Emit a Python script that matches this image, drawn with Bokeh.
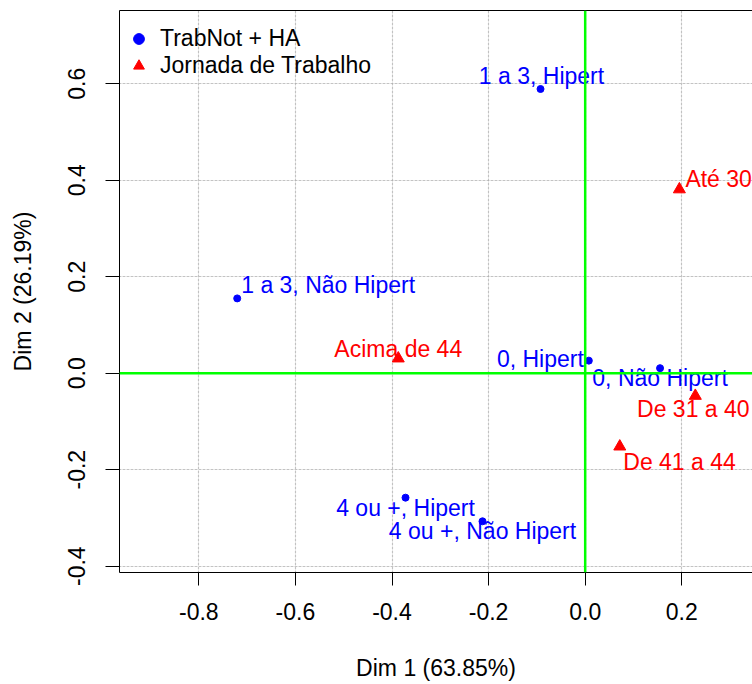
from bokeh.plotting import figure
from bokeh.models import (Range1d, FixedTicker, PrintfTickFormatter, LinearAxis,
                          Span, ColumnDataSource, Legend, Grid)
from bokeh.core.properties import value
from bokeh.embed import file_html
from bokeh.resources import INLINE

# ---------------- data ----------------
row_labels = ["0, Hipert", "0, Não Hipert", "1 a 3, Hipert",
              "1 a 3, Não Hipert", "4 ou +, Hipert", "4 ou +, Não Hipert"]
row_dim1 = [0.0075, 0.155, -0.0925, -0.7205, -0.372, -0.2126]
row_dim2 = [0.026, 0.0104, 0.589, 0.155, -0.258, -0.307]

col_labels = ["Até 30", "De 31 a 40", "De 41 a 44", "Acima de 44"]
col_dim1 = [0.195, 0.228, 0.0716, -0.387]
col_dim2 = [0.381, -0.047, -0.152, 0.0305]

x_ticks = [-0.8, -0.6, -0.4, -0.2, 0.0, 0.2, 0.4]
y_ticks = [-0.4, -0.2, 0.0, 0.2, 0.4, 0.6]
x_title = "Dim 1 (63.85%)"
y_title = "Dim 2 (26.19%)"
legend_names = ["TrabNot + HA", "Jornada de Trabalho"]
x_limits = (-0.9642, 0.3464)
y_limits = (-0.4131, 0.7517)

# ---------------- label placement (styles) ----------------
row_align = ["right", "center", "center", "left", "center", "center"]
row_dx = [-5, 0, 1, 4, 0, 0]
row_dy = [-2, 10, -13, -13, 10, 9.5]
col_align = ["left", "center", "left", "center"]
col_dx = [6, -2, 3.5, 0]
col_dy = [-10, 13.5, 15, -9]

FONT = "Liberation Sans"
FS = "23px"
BLUE = "#0000FF"
RED = "#FF0000"
GREEN = "#00FF00"

rows = ColumnDataSource(dict(x=row_dim1, y=row_dim2, t=row_labels,
                             al=row_align, dx=row_dx, dy=row_dy))
cols = ColumnDataSource(dict(x=col_dim1, y=col_dim2, t=col_labels,
                             al=col_align, dx=col_dx, dy=col_dy))

p = figure(width=752, height=684, output_backend="svg", toolbar_location=None,
           x_range=Range1d(*x_limits), y_range=Range1d(*y_limits),
           x_axis_location=None, y_axis_location=None,
           min_border_left=119, min_border_right=0, min_border_top=10,
           min_border_bottom=112)
p.outline_line_color = None
p.background_fill_color = "white"
p.border_fill_color = "white"

xt = FixedTicker(ticks=x_ticks)
yt = FixedTicker(ticks=y_ticks)

xaxis = LinearAxis(ticker=xt, formatter=PrintfTickFormatter(format="%.1f"),
                   axis_label=x_title)
yaxis = LinearAxis(ticker=yt, formatter=PrintfTickFormatter(format="%.1f"),
                   axis_label=y_title)
topaxis = LinearAxis(ticker=FixedTicker(ticks=[]), major_tick_out=0,
                     major_tick_in=0, minor_tick_out=0, minor_tick_in=0,
                     major_label_standoff=0)
for ax in (xaxis, yaxis, topaxis):
    ax.axis_line_color = "black"
    ax.axis_line_width = 1
    ax.major_tick_line_color = "black"
    ax.minor_tick_line_color = None
    ax.major_tick_in = 0
    ax.major_label_text_font = FONT
    ax.major_label_text_font_size = FS
    ax.major_label_text_color = "black"
    ax.axis_label_text_font = FONT
    ax.axis_label_text_font_size = FS
    ax.axis_label_text_font_style = "normal"
    ax.axis_label_text_color = "black"
xaxis.major_tick_out = 13
xaxis.major_label_standoff = 17
xaxis.axis_label_standoff = 32
yaxis.major_tick_out = 14
yaxis.major_label_orientation = "vertical"
yaxis.major_label_standoff = 20
yaxis.axis_label_standoff = 30
topaxis.major_tick_out = 0
p.add_layout(xaxis, "below")
p.add_layout(yaxis, "left")
p.add_layout(topaxis, "above")

for dim, tk in ((0, xt), (1, yt)):
    g = Grid(dimension=dim, ticker=tk, grid_line_color="#a0a0a0",
             grid_line_dash="1 3", grid_line_width=1.2)
    p.add_layout(g)

r1 = p.scatter("x", "y", source=rows, marker="circle", size=7,
               fill_color=BLUE, line_color=BLUE)
r2 = p.scatter("x", "y", source=cols, marker="triangle", size=12,
               fill_color=RED, line_color=RED)

p.text("x", "y", text="t", source=rows, text_align="al", text_baseline="middle",
       x_offset="dx", y_offset="dy", text_color=BLUE,
       text_font=value(FONT), text_font_size=FS)
p.text("x", "y", text="t", source=cols, text_align="al", text_baseline="middle",
       x_offset="dx", y_offset="dy", text_color=RED,
       text_font=value(FONT), text_font_size=FS)

p.add_layout(Span(location=0, dimension="width", line_color=GREEN, line_width=2.5))
p.add_layout(Span(location=0, dimension="height", line_color=GREEN, line_width=2.5))

legend = Legend(items=[(legend_names[0], [r1]), (legend_names[1], [r2])],
                location=(6, 493), margin=0, padding=0, spacing=0,
                glyph_width=27, glyph_height=27, label_height=27,
                label_standoff=8, border_line_color=None,
                background_fill_alpha=0, label_text_font=FONT,
                label_text_font_size=FS, label_text_color="black")
p.add_layout(legend)

open("out.html", "w").write(file_html(p, INLINE))
